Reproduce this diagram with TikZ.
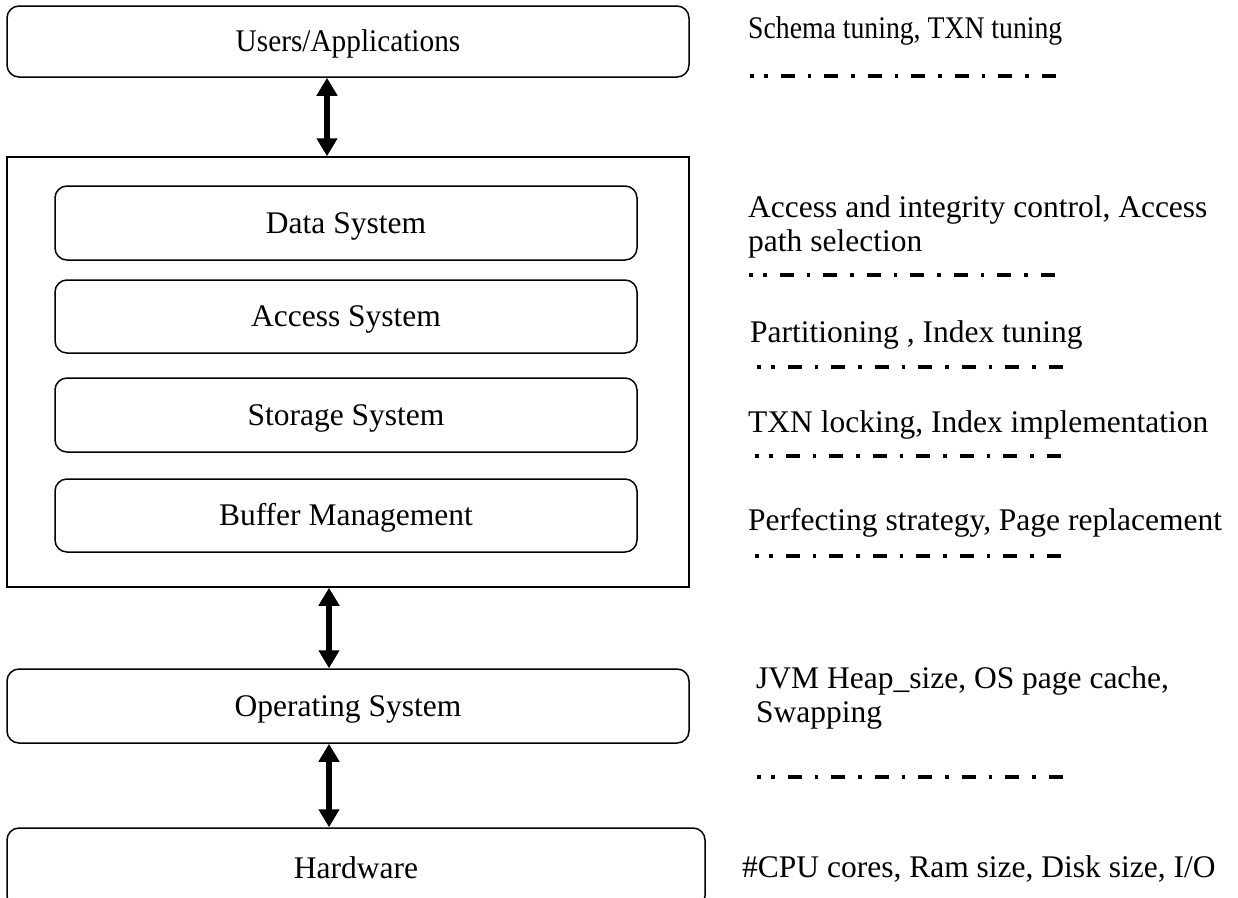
\documentclass[tikz,border=0pt]{standalone}
\usepackage{fontspec}
\setmainfont{Liberation Serif}
\usetikzlibrary{arrows.meta}

\tikzset{
  layerbox/.style={draw, line width=1.5pt, rounded corners=12pt, inner sep=0pt,
    text height=22pt, text depth=2pt,
    font=\fontsize{31.5}{34}\selectfont},
  frame/.style={draw, line width=1.5pt, inner sep=0pt},
  note/.style={anchor=base west, inner sep=0pt, align=left,
    font=\fontsize{31.5}{34}\selectfont},
  narrow/.style={font=\fontsize{31.5}{34}\selectfont\addfontfeature{FakeStretch=#1}},
  updown/.style={line width=6.5pt, {Triangle[width=20pt,length=18pt]}-{Triangle[width=20pt,length=18pt]}},
  tunedash/.style={line width=3.3pt, dash pattern=on 3.5pt off 13pt on 14pt off 13pt},
  tunedot/.style={line width=3.3pt}
}

% dotted-dashed separator: a lone dot, then the repeating dot/dash run
\newcommand\tuneline[3]{%
  \draw[tunedot] (#1,#3) -- ++(3.5,0);
  \draw[tunedash] (#1+14,#3) -- (#2,#3);
}

\begin{document}
\begin{tikzpicture}[x=1pt,y=-1pt]
\useasboundingbox (0,0) rectangle (1238,897);

% layered stack
\node[layerbox, narrow=0.93, minimum width=682pt, minimum height=71pt] (users) at (348,41.5) {Users/Applications};
\node[frame, minimum width=682pt, minimum height=430pt] (core) at (348,372) {};
\node[layerbox, minimum width=582pt, minimum height=74pt] (data) at (346,223) {Data System};
\node[layerbox, minimum width=582pt, minimum height=73pt] (access) at (346,316.5) {Access System};
\node[layerbox, minimum width=582pt, minimum height=74pt] (storage) at (346,415) {Storage System};
\node[layerbox, minimum width=582pt, minimum height=73pt] (buffer) at (346,515.5) {Buffer Management};
\node[layerbox, minimum width=682pt, minimum height=74pt] (os) at (348,706) {Operating System};
\node[layerbox, minimum width=698pt, minimum height=80pt] (hw) at (356,868) {Hardware};

% connectors between layers
\draw[updown] ([xshift=-21pt]users.south) coordinate (a1) -- (a1 |- core.north);
\draw[updown] ([xshift=-19pt]core.south) coordinate (a2) -- (a2 |- os.north);
\draw[updown] ([xshift=-19pt]os.south) coordinate (a3) -- (a3 |- hw.north);

% tuning notes (base anchor sits on the last line)
\node[note, narrow=0.88] (n1) at (748,38) {Schema tuning, TXN tuning};
\tuneline{750}{1057}{76}
\node[note] (n2) at (748,251) {Access and integrity control, Access\\path selection};
\tuneline{749}{1056}{275}
\node[note] (n3) at (750,342) {Partitioning , Index tuning};
\tuneline{757}{1065}{367}
\node[note] (n4) at (748,432) {TXN locking, Index implementation};
\tuneline{755}{1063}{456}
\node[note] (n5) at (748,530) {Perfecting strategy, Page replacement};
\tuneline{755}{1063}{556}
\node[note] (n6) at (756,722) {JVM Heap\_size, OS page cache,\\Swapping};
\tuneline{757}{1075}{777}
\node[note] (n7) at (742,877) {\#CPU cores, Ram size, Disk size, I/O};
\end{tikzpicture}
\end{document}
